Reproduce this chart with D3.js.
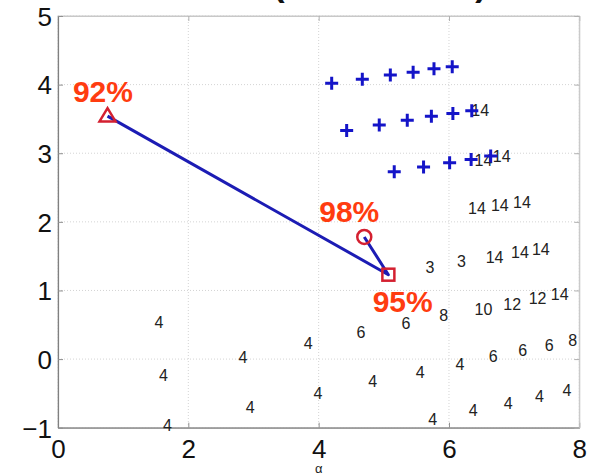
<!DOCTYPE html>
<html>
<head>
<meta charset="utf-8">
<script src="https://cdn.jsdelivr.net/npm/d3@7/dist/d3.min.js"></script>
<style>
  html, body { margin: 0; padding: 0; background: #fff; }
  svg { display: block; }
</style>
</head>
<body>
<svg id="chart" width="596" height="476"></svg>
<script>
// Axis ticks
const xTicks = [0, 2, 4, 6, 8];
const yTicks = [-1, 0, 1, 2, 3, 4, 5];

// Path through the three highlighted results (triangle -> square -> circle)
const pathX = [0.76, 5.07, 4.70];
const pathY = [3.54, 1.23, 1.78];
const pathMarker = ["triangle", "square", "circle"];

// Percentage labels next to the highlighted results (position of text baseline centre)
const pctText = ["92%", "95%", "98%"];
const pctX = [0.69, 5.29, 4.47];
const pctY = [3.74, 0.68, 2.00];

// Blue "+" points
const plusX = [4.20, 4.67, 5.10, 5.45, 5.77, 6.05,
               4.43, 4.93, 5.36, 5.73, 6.06, 6.35,
               5.16, 5.61, 6.01, 6.34, 6.64];
const plusY = [4.02, 4.08, 4.14, 4.18, 4.23, 4.26,
               3.33, 3.41, 3.48, 3.54, 3.58, 3.62,
               2.73, 2.80, 2.86, 2.91, 2.96];

// Numeric point labels
const numText = ["14", "14", "14", "14", "14", "14",
                 "3", "3", "14", "14", "14",
                 "10", "12", "12", "14",
                 "8", "6", "6", "4",
                 "6", "6", "6", "8",
                 "4", "4", "4", "4",
                 "4", "4", "4", "4", "4",
                 "4", "4", "4", "4", "4"];
const numX = [6.48, 6.53, 6.81, 6.43, 6.78, 7.12,
              5.71, 6.19, 6.70, 7.09, 7.41,
              6.53, 6.97, 7.36, 7.70,
              5.92, 5.34, 4.65, 3.84,
              6.68, 7.13, 7.54, 7.90,
              6.17, 5.56, 4.83, 3.99,
              6.37, 6.91, 7.39, 7.81, 5.75,
              1.55, 1.62, 1.68, 2.84, 2.95];
const numY = [3.62, 2.90, 2.95, 2.20, 2.24, 2.29,
              1.34, 1.42, 1.49, 1.55, 1.60,
              0.73, 0.80, 0.88, 0.94,
              0.64, 0.52, 0.39, 0.23,
              0.04, 0.13, 0.20, 0.28,
              -0.07, -0.19, -0.33, -0.50,
              -0.74, -0.64, -0.54, -0.46, -0.88,
              0.53, -0.23, -0.96, 0.02, -0.70];

const svg = d3.select("#chart");
const plotLeft = 58, plotRight = 579.3, plotTop = 16, plotBottom = 427.7;

const x = d3.scaleLinear().domain([0, 8]).range([plotLeft, plotRight]);
const y = d3.scaleLinear().domain([-1, 5]).range([plotBottom, plotTop]);

const font = "'Liberation Sans', Arial, Helvetica, sans-serif";
const fmt = d => d < 0 ? "\u2212" + Math.abs(d) : d;

// Title brackets, mostly above the top edge of the page
svg.append("text").attr("x", 279).attr("y", -4)
  .attr("font-family", font).attr("font-size", 34).attr("font-weight", "bold")
  .attr("text-anchor", "middle").attr("fill", "#111").text("(");
svg.append("text").attr("x", 481).attr("y", -4)
  .attr("font-family", font).attr("font-size", 34).attr("font-weight", "bold")
  .attr("text-anchor", "middle").attr("fill", "#111").text(")");

// Grid
const grid = svg.append("g");
grid.selectAll("line.gx").data(xTicks).join("line").attr("class", "gx")
  .attr("x1", d => x(d)).attr("x2", d => x(d))
  .attr("y1", plotTop).attr("y2", plotBottom)
  .attr("stroke", "#d4d4d4").attr("stroke-width", 1).attr("stroke-dasharray", "1,2");
grid.selectAll("line.gy").data(yTicks).join("line").attr("class", "gy")
  .attr("y1", d => y(d)).attr("y2", d => y(d))
  .attr("x1", plotLeft).attr("x2", plotRight)
  .attr("stroke", "#d4d4d4").attr("stroke-width", 1).attr("stroke-dasharray", "1,2");

// Frame
svg.append("rect").attr("x", plotLeft).attr("y", plotTop)
  .attr("width", plotRight - plotLeft).attr("height", plotBottom - plotTop)
  .attr("fill", "none").attr("stroke", "#c8c8c8").attr("stroke-width", 1);

// Axes with inward ticks
const xAxis = svg.append("g").attr("transform", `translate(0,${plotBottom})`)
  .call(d3.axisBottom(x).tickValues(xTicks).tickSizeInner(-5).tickSizeOuter(0).tickPadding(12)
    .tickFormat(fmt));
const xAxisTop = svg.append("g").attr("transform", `translate(0,${plotTop})`)
  .call(d3.axisTop(x).tickValues(xTicks).tickSizeInner(-5).tickSizeOuter(0).tickFormat(""));
const yAxis = svg.append("g").attr("transform", `translate(${plotLeft},0)`)
  .call(d3.axisLeft(y).tickValues(yTicks).tickSizeInner(-5).tickSizeOuter(0).tickPadding(6)
    .tickFormat(fmt));
const yAxisRight = svg.append("g").attr("transform", `translate(${plotRight},0)`)
  .call(d3.axisRight(y).tickValues(yTicks).tickSizeInner(-5).tickSizeOuter(0).tickFormat(""));

[xAxis, yAxis].forEach(g => {
  g.select(".domain").attr("stroke", "#808080").attr("stroke-width", 1.2);
  g.selectAll(".tick line").attr("stroke", "#909090");
  g.selectAll(".tick text").attr("font-family", font).attr("font-size", 26).attr("fill", "#111");
});
[xAxisTop, yAxisRight].forEach(g => {
  g.select(".domain").attr("stroke", "#c8c8c8");
  g.selectAll(".tick line").attr("stroke", "#b0b0b0");
});
xAxis.selectAll(".tick text").attr("dy", "0.71em");
yAxis.selectAll(".tick text").attr("dy", "0.36em");

// x-axis label
svg.append("text").attr("x", x(4)).attr("y", 473)
  .attr("font-family", font).attr("font-size", 13).attr("text-anchor", "middle")
  .attr("fill", "#222").text("\u03b1");

// Numeric labels
svg.append("g").selectAll("text").data(numText).join("text")
  .attr("x", (d, i) => x(numX[i])).attr("y", (d, i) => y(numY[i]))
  .attr("dy", "0.36em").attr("text-anchor", "middle")
  .attr("font-family", font).attr("font-size", 16).attr("fill", "#222")
  .text(d => d);

// Blue plus markers
const ps = 6.5;
svg.append("g").selectAll("path").data(plusX).join("path")
  .attr("d", (d, i) => {
    const cx = x(d), cy = y(plusY[i]);
    return `M${cx - ps},${cy}H${cx + ps}M${cx},${cy - ps}V${cy + ps}`;
  })
  .attr("stroke", "#1414c8").attr("stroke-width", 3).attr("fill", "none");

// Connecting line
const line = d3.line().x(d => x(d[0])).y(d => y(d[1]));
svg.append("path").datum(pathX.map((d, i) => [d, pathY[i]]))
  .attr("d", line).attr("fill", "none")
  .attr("stroke", "#1c1cb4").attr("stroke-width", 3).attr("stroke-linejoin", "round");

// Highlight markers
const red = "#d42030";
const mk = svg.append("g");
pathX.forEach((d, i) => {
  const cx = x(d), cy = y(pathY[i]);
  if (pathMarker[i] === "triangle") {
    const s = 8;
    mk.append("path")
      .attr("d", `M${cx},${cy - s}L${cx + s},${cy + s * 0.65}L${cx - s},${cy + s * 0.65}Z`)
      .attr("fill", "none").attr("stroke", red).attr("stroke-width", 2.5);
  } else if (pathMarker[i] === "square") {
    const s = 6;
    mk.append("rect").attr("x", cx - s).attr("y", cy - s)
      .attr("width", 2 * s).attr("height", 2 * s)
      .attr("fill", "none").attr("stroke", red).attr("stroke-width", 2.5);
  } else {
    mk.append("circle").attr("cx", cx).attr("cy", cy).attr("r", 7)
      .attr("fill", "none").attr("stroke", red).attr("stroke-width", 2.5);
  }
});

// Percentage labels
svg.append("g").selectAll("text").data(pctText).join("text")
  .attr("x", (d, i) => x(pctX[i])).attr("y", (d, i) => y(pctY[i]))
  .attr("text-anchor", "middle")
  .attr("font-family", font).attr("font-size", 30).attr("font-weight", "bold")
  .attr("fill", "#ff3c10")
  .text(d => d);
</script>
</body>
</html>
